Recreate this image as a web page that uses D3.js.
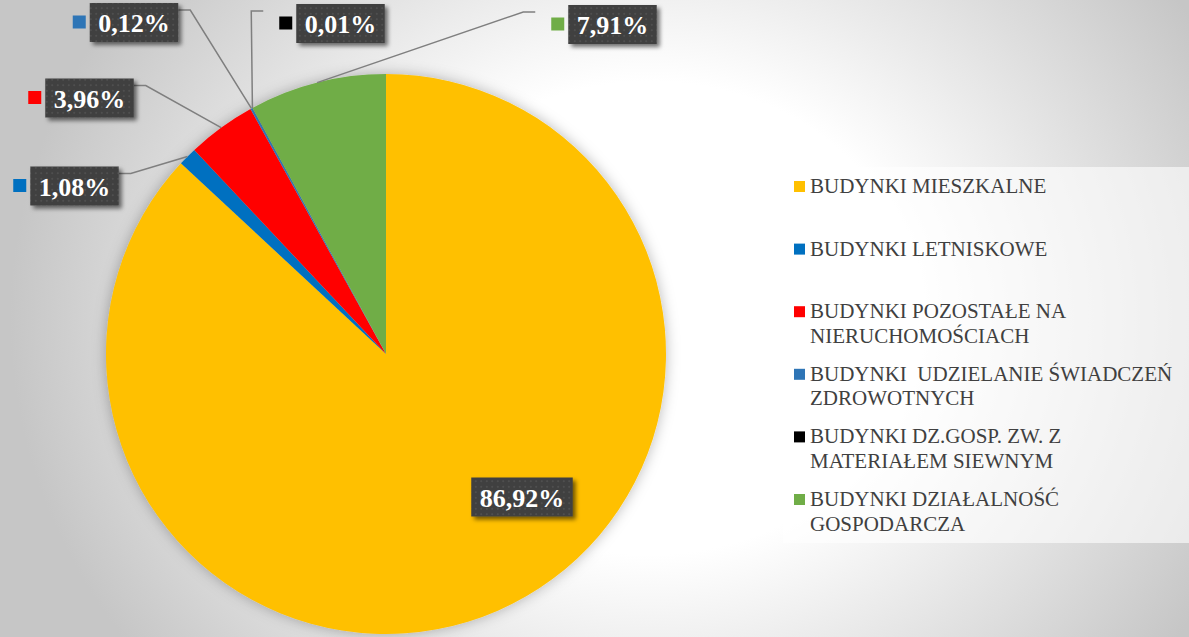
<!DOCTYPE html>
<html><head><meta charset="utf-8">
<script src="https://cdn.jsdelivr.net/npm/d3@7"></script>
<style>
html,body{margin:0;padding:0;overflow:hidden;background:#fff}
</style>
</head><body><svg id="chart" width="1189" height="637"></svg>
<script>
// ---- data ----
const categories = [
  "BUDYNKI MIESZKALNE",
  "BUDYNKI LETNISKOWE",
  "BUDYNKI POZOSTAŁE NA NIERUCHOMOŚCIACH",
  "BUDYNKI  UDZIELANIE ŚWIADCZEŃ ZDROWOTNYCH",
  "BUDYNKI DZ.GOSP. ZW. Z MATERIAŁEM SIEWNYM",
  "BUDYNKI DZIAŁALNOŚĆ GOSPODARCZA"
];
const values = [86.92, 1.08, 3.96, 0.12, 0.01, 7.91];
const valueLabels = ["86,92%", "1,08%", "3,96%", "0,12%", "0,01%", "7,91%"];
const colors = ["#FFC000", "#0070C0", "#FF0000", "#2E75B6", "#000000", "#70AD47"];

// ---- layout (not data) ----
const W = 1189, H = 637;
const cx = 386, cy = 354, R = 280;
const labelLayout = [
  {x: 522, y: 497, key: false, side: null},
  {x: 74.5, y: 186, key: true, side: "left"},
  {x: 89.5, y: 98, key: true, side: "left"},
  {x: 134, y: 22.5, key: true, side: "left"},
  {x: 340.5, y: 23.5, key: true, side: "right"},
  {x: 612.5, y: 24.5, key: true, side: "right"}
];
const FAMILY = "'Liberation Serif', 'Times New Roman', Tinos, 'DejaVu Serif', 'Noto Serif', serif";

const svg = d3.select("#chart");
const defs = svg.append("defs");

// measure helper to fit font sizes to the reference text widths
function fitSize(str, weight, targetW) {
  const t = svg.append("text").attr("font-family", FAMILY).attr("font-size", 20)
    .attr("font-weight", weight).text(str);
  const w = t.node().getComputedTextLength();
  t.remove();
  return 20 * targetW / w;
}
const legendSize = Math.min(21, fitSize("BUDYNKI MIESZKALNE", "normal", 239));
const labelSize = Math.min(26, fitSize("0,12%", "bold", 72));

// background gradient
const bg = defs.append("radialGradient").attr("id", "bg")
  .attr("gradientUnits", "userSpaceOnUse")
  .attr("cx", 650).attr("cy", 318).attr("r", 640)
  .attr("gradientTransform", "translate(650,318) scale(1,0.88) translate(-650,-318)");
bg.append("stop").attr("offset", 0).attr("stop-color", "#ffffff");
bg.append("stop").attr("offset", 0.42).attr("stop-color", "#ffffff");
bg.append("stop").attr("offset", 1).attr("stop-color", "#c6c6c6");

const pieShadow = defs.append("filter").attr("id", "pieShadow")
  .attr("x", "-20%").attr("y", "-20%").attr("width", "140%").attr("height", "140%");
pieShadow.append("feDropShadow").attr("dx", 0).attr("dy", 0).attr("stdDeviation", 7)
  .attr("flood-color", "#000").attr("flood-opacity", 0.28);

const boxShadow = defs.append("filter").attr("id", "boxShadow")
  .attr("x", "-20%").attr("y", "-30%").attr("width", "150%").attr("height", "170%");
boxShadow.append("feDropShadow").attr("dx", 3).attr("dy", 3).attr("stdDeviation", 2.2)
  .attr("flood-color", "#000").attr("flood-opacity", 0.55);

const pat = defs.append("pattern").attr("id", "dots")
  .attr("patternUnits", "userSpaceOnUse").attr("width", 5.5).attr("height", 5.5);
pat.append("rect").attr("width", 5.5).attr("height", 5.5).attr("fill", "#404040");
pat.append("rect").attr("x", 2).attr("y", 2).attr("width", 1.5).attr("height", 1.5).attr("fill", "#575757");

svg.append("rect").attr("width", W).attr("height", H).attr("fill", "url(#bg)");

// ---- pie ----
const pie = d3.pie().sort(null).value(d => d)(values);
const arc = d3.arc().innerRadius(0).outerRadius(R);
const gPie = svg.append("g").attr("transform", `translate(${cx},${cy})`).attr("filter", "url(#pieShadow)");
gPie.selectAll("path").data(pie).join("path")
  .attr("d", arc).attr("fill", (d, i) => colors[i]);

// ---- legend ----
const lg = svg.append("g");
lg.append("rect").attr("x", 783).attr("y", 167).attr("width", W - 783).attr("height", 376)
  .attr("fill", "#ffffff").attr("fill-opacity", 0.6);
const maxW = 378;
function styleLegend(sel) {
  return sel.attr("font-family", FAMILY).attr("font-size", legendSize).attr("xml:space", "preserve")
    .style("white-space", "pre");
}
categories.forEach((c, i) => {
  const by = 193 + i * 62.6;
  lg.append("rect").attr("x", 794).attr("y", by - 12).attr("width", 11).attr("height", 11)
    .attr("fill", colors[i]);
  const t = styleLegend(lg.append("text")).attr("x", 810).attr("y", by).attr("fill", "#404040");
  const words = c.split(/(?<=\S) (?=\S)/);
  let line = "", lines = [];
  const probe = styleLegend(lg.append("text"));
  words.forEach(w => {
    const test = line ? line + " " + w : w;
    probe.text(test);
    if (probe.node().getComputedTextLength() > maxW && line) { lines.push(line); line = w; }
    else line = test;
  });
  lines.push(line);
  probe.remove();
  lines.forEach((l, k) => {
    t.append("tspan").attr("x", 810).attr("y", by + k * 24.5).text(l);
  });
});

// ---- data labels ----
const gLab = svg.append("g");
function styleLabel(sel) {
  return sel.attr("font-family", FAMILY).attr("font-size", labelSize).attr("font-weight", "bold");
}
pie.forEach((d, i) => {
  const L = labelLayout[i];
  const txt = styleLabel(gLab.append("text")).text(valueLabels[i]);
  const tw = txt.node().getComputedTextLength();
  const bw = tw + 17, bh = 39;
  const x0 = L.x - bw / 2, y0 = L.y - bh / 2;
  txt.remove();
  if (L.side) {
    const a = (d.startAngle + d.endAngle) / 2;
    const ex = cx + R * Math.sin(a), ey = cy - R * Math.cos(a);
    let sx, sy = y0 + 7, kx;
    if (L.side === "left") { sx = x0 + bw; kx = sx + 12; }
    else { sx = x0 - 4 - 13 - 16; kx = sx - 12; }
    gLab.append("polyline")
      .attr("points", [[sx, sy], [kx, sy], [ex, ey]].map(p => p.join(",")).join(" "))
      .attr("fill", "none").attr("stroke", "#7f7f7f").attr("stroke-width", 1.5);
  }
  const g = gLab.append("g");
  g.append("rect").attr("x", x0).attr("y", y0).attr("width", bw).attr("height", bh)
    .attr("fill", "url(#dots)").attr("filter", "url(#boxShadow)");
  styleLabel(g.append("text")).attr("x", L.x).attr("y", L.y + labelSize * 0.38).attr("text-anchor", "middle")
    .attr("fill", "#ffffff").text(valueLabels[i]);
  if (L.key) {
    g.append("rect").attr("x", x0 - 4 - 13).attr("y", L.y - 7).attr("width", 13).attr("height", 13)
      .attr("fill", colors[i]);
  }
});
</script>
</body></html>
